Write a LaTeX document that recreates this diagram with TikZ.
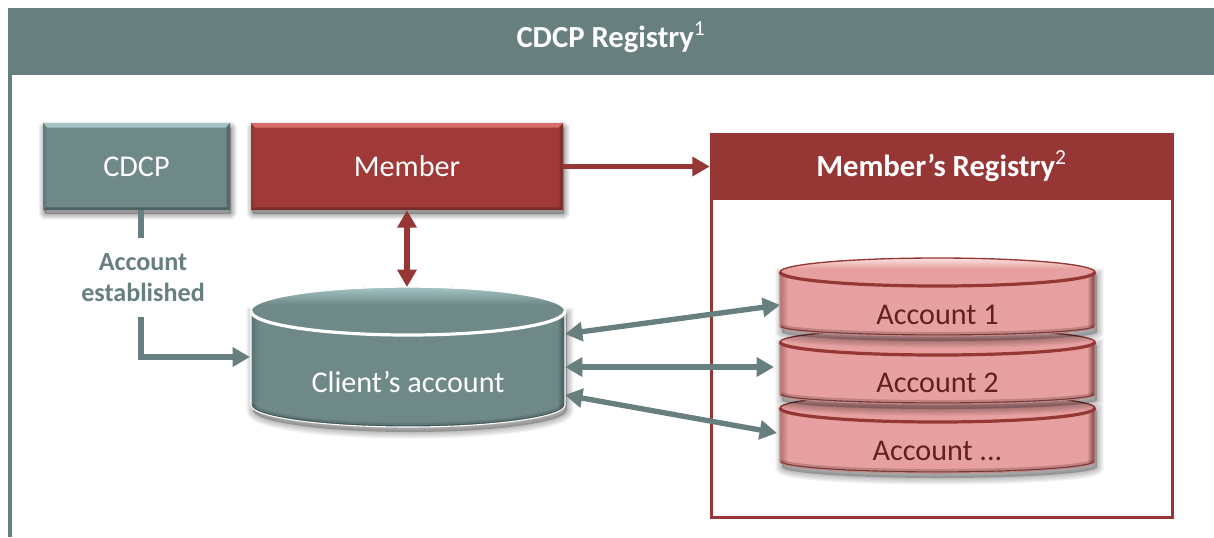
\documentclass[tikz,border=0pt]{standalone}
\usepackage{fontspec}
\setmainfont{Carlito}
\usetikzlibrary{arrows.meta}

\definecolor{headteal}{HTML}{677F7F}
\definecolor{headred}{HTML}{963735}
\definecolor{memberfill}{HTML}{9F3A38}
\definecolor{memberlight}{HTML}{D86E6C}
\definecolor{memberdark}{HTML}{6E2827}
\definecolor{clientfill}{HTML}{6F8888}
\definecolor{clientrim}{HTML}{FFFFFF}
\definecolor{clientlight}{HTML}{A4C4C4}
\definecolor{clientdark}{HTML}{425656}
\definecolor{clienttext}{HTML}{FFFFFF}
\definecolor{acctfill}{HTML}{E6A09F}
\definecolor{acctrim}{HTML}{953735}
\definecolor{acctlight}{HTML}{FBE3E2}
\definecolor{acctdark}{HTML}{6E3A39}
\definecolor{accttext}{HTML}{5F2120}

\tikzset{
    labelfont/.style={font=\fontsize{22.6}{26}\selectfont},
    headfont/.style={font=\fontsize{23}{26}\bfseries\selectfont, text=white},
    linkteal/.style={draw=headteal, line width=4pt, -{Triangle[length=13pt,width=14pt]}},
    linkred/.style={draw=headred, line width=4pt, -{Triangle[length=13pt,width=14pt]}},
    bothways/.style={{Triangle[length=13pt,width=14pt]}-{Triangle[length=13pt,width=14pt]}},
    bevelbox/.style n args={3}{
        labelfont, text=white, fill=#1, inner sep=0pt,
        path picture={
            \fill[#2] (path picture bounding box.north west) -- (path picture bounding box.north east)
                -- ++(-3.5pt,-3.5pt) -- ([shift={(3.5pt,-3.5pt)}]path picture bounding box.north west) -- cycle;
            \fill[#3!80!#1] (path picture bounding box.south west) -- (path picture bounding box.south east)
                -- ++(-2.5pt,2pt) -- ([shift={(2.5pt,2pt)}]path picture bounding box.south west) -- cycle;
            \fill[#3!60!#1] (path picture bounding box.north east) -- (path picture bounding box.south east)
                -- ++(-2.5pt,2pt) -- ([shift={(-2.5pt,-3.5pt)}]path picture bounding box.north east) -- cycle;
            \fill[#3!25!#1] (path picture bounding box.north west) -- (path picture bounding box.south west)
                -- ++(2.5pt,2pt) -- ([shift={(2.5pt,-3.5pt)}]path picture bounding box.north west) -- cycle;
        }
    },
}

% soft edge below a box: #1 lower left, #2 upper right
\newcommand\softshade[2]{
    \foreach \w in {8,6,4,2} {
        \fill[black, opacity=.07, rounded corners=1pt, draw=black, line width=\w pt] ([shift={(1pt,-3pt)}]#1) rectangle ([shift={(1pt,-3pt)}]#2);
    }
}

% #1 name, #2 centre x, #3 cap y, #4 foot y, #5 x radius, #6 cap y radius, #7 foot y radius, #8 colour prefix, #9 text
\newcommand\drum[9]{
    \foreach \w in {10,8,6,4,2} {
        \fill[black, opacity=.05, draw=black, line width=\w pt] (#2-#5+2,#3+3) -- (#2-#5+2,#4+5) arc[start angle=180, end angle=360, x radius=#5*.75pt, y radius=#7*.75pt] -- (#2+#5+2,#3+3) -- cycle;
    }
    \begin{scope}
        \clip (#2-#5,#3) -- (#2-#5,#4) arc[start angle=180, end angle=360, x radius=#5*.75pt, y radius=#7*.75pt] -- (#2+#5,#3) -- cycle;
        \fill[#8fill] (#2-#5,#3-2) rectangle (#2+#5,#4+#7+2);
        \fill[left color=#8dark!45!#8fill, right color=#8fill] (#2-#5,#3-2) rectangle (#2-#5+8,#4+#7+2);
        \fill[left color=#8fill, right color=#8dark] (#2+#5-8,#3-2) rectangle (#2+#5,#4+#7+2);
        \draw[#8dark, opacity=.3, line width=6pt] (#2-#5,#4) arc[start angle=180, end angle=360, x radius=#5*.75pt, y radius=#7*.75pt];
        \draw[#8dark, line width=2.5pt] (#2-#5,#4) arc[start angle=180, end angle=360, x radius=#5*.75pt, y radius=#7*.75pt];
    \end{scope}
    \draw[#8rim!60!white, line width=.8pt] (#2-#5,#3) -- (#2-#5,#4) arc[start angle=180, end angle=360, x radius=#5*.75pt, y radius=#7*.75pt] -- (#2+#5,#3);
    \begin{scope}
        \clip (#2,#3) ellipse[x radius=#5*.75pt, y radius=#6*.75pt];
        \fill[#8fill] (#2-#5,#3-#6) rectangle (#2+#5,#3+#6);
        \fill[top color=#8light, bottom color=#8fill] (#2-#5,#3-#6) rectangle (#2+#5,#3-#6/4);
    \end{scope}
    \draw[#8rim, line width=1pt] (#2,#3) ellipse[x radius=#5*.75pt, y radius=#6*.75pt];
    \draw[#8rim, line width=2.4pt] (#2-#5,#3) arc[start angle=180, end angle=360, x radius=#5*.75pt, y radius=#6*.75pt];
    \node[labelfont, text=#8text, inner sep=0pt] (#1) at (#2,{(#3+#4+#7)/2+#6/4+7}) {#9};
}

\begin{document}
\begin{tikzpicture}[x=.75pt, y=-.75pt]
    \useasboundingbox (0,0) rectangle (1214,537);
    \fill[white] (0,0) rectangle (1214,537);

    \node[fill=headteal, inner sep=0pt, minimum width=904.5pt, minimum height=50.25pt, text depth=10pt, headfont] (title) at (611,41.5) {CDCP Registry\textsuperscript{\mdseries 1}};
    \coordinate (framefoot) at (10,537);
    \draw[headteal, line width=3pt] ([xshift=1.5pt]title.south west) -- ([xshift=1.5pt]title.south west |- framefoot);

    \softshade{43,210}{230,123}
    \softshade{251,210}{563,123}
    \node[bevelbox={clientfill}{clientlight}{clientdark}, minimum width=140.25pt, minimum height=65.25pt] (cdcp) at (136.5,166.5) {CDCP};
    \node[bevelbox={memberfill}{memberlight}{memberdark}, minimum width=234pt, minimum height=65.25pt] (member) at (407,166.5) {Member};

    \node[draw=headred, line width=2.25pt, minimum width=345.75pt, minimum height=287.25pt, inner sep=0pt] (registry) at (941.5,325.5) {};
    \node[fill=headred, inner sep=0pt, minimum width=347.25pt, minimum height=50.25pt, headfont] (reghead) at (941.5,166.5) {Member’s Registry\textsuperscript{\mdseries 2}};

    \drum{client}{408}{311}{405}{157}{24}{22}{client}{Client’s account}
    \drum{acctc}{937.5}{408}{462}{157.5}{14}{11}{acct}{Account ...}
    \drum{acctb}{937.5}{342}{395}{157.5}{13}{9}{acct}{Account 2}
    \drum{accta}{937.5}{272}{327}{157.5}{14}{9}{acct}{Account 1}

    \node[font=\fontsize{19.6}{23.5}\bfseries\selectfont, text=headteal, align=center, inner sep=0pt] (established) at (143,277.5) {Account\\established};

    \coordinate (fromcdcp) at (141,238);
    \coordinate (resume) at (141,317);
    \coordinate (clientleft) at (250,357);
    \coordinate (clienttop) at (407,287);
    \coordinate (clientone) at (565,334);
    \coordinate (clienttwo) at (565,367);
    \coordinate (clientthree) at (565,395);
    \coordinate (acctone) at (780,305);
    \coordinate (accttwo) at (774,367);
    \coordinate (acctthree) at (777,433);

    \draw[headteal, line width=4pt] (cdcp.south -| fromcdcp) -- (fromcdcp);
    \draw[linkteal] (resume) |- (clientleft);
    \draw[linkred, bothways] (member.south) -- (clienttop);
    \draw[linkred] (member.east) -- (reghead.west);
    \draw[linkteal, bothways] (clientone) -- (acctone);
    \draw[linkteal, bothways] (clienttwo) -- (accttwo);
    \draw[linkteal, bothways] (clientthree) -- (acctthree);
\end{tikzpicture}
\end{document}
